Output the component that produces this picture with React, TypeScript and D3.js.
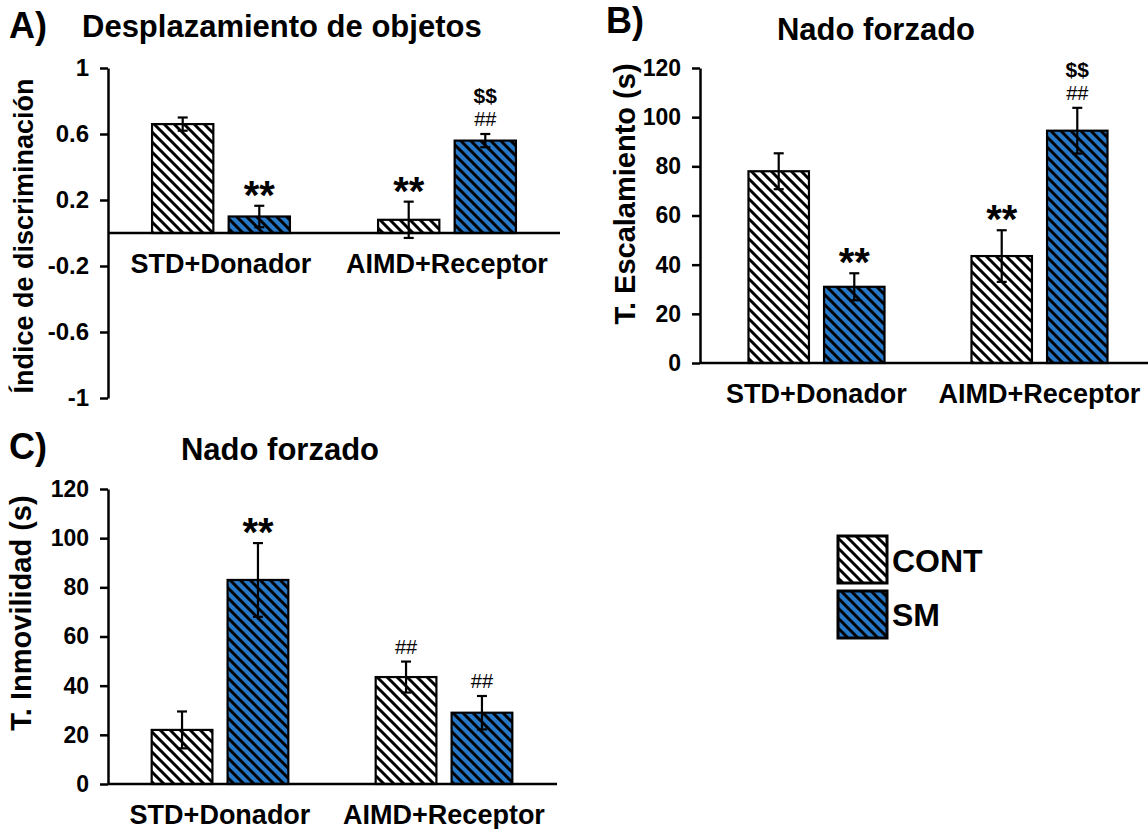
import React, { useEffect, useRef } from "react";
import * as d3 from "d3";

const categories = ["STD+Donador", "AIMD+Receptor"];
const groups = ["CONT", "SM"];

// A) Desplazamiento de objetos - indice de discriminacion
const despCont = [0.66, 0.08];
const despContErr = [0.04, 0.11];
const despSm = [0.1, 0.56];
const despSmErr = [0.065, 0.04];
const despTicks = [1, 0.6, 0.2, -0.2, -0.6, -1];

// B) Nado forzado - tiempo de escalamiento (s)
const escCont = [78, 43.5];
const escContErr = [7.3, 10.5];
const escSm = [31, 94.5];
const escSmErr = [5.5, 9.3];

// C) Nado forzado - tiempo de inmovilidad (s)
const inmCont = [22, 43.5];
const inmContErr = [7.5, 6.3];
const inmSm = [83, 29];
const inmSmErr = [15, 6.8];

const secondsTicks = [0, 20, 40, 60, 80, 100, 120];

// significance marks per [category][group], listed bottom to top
const despMarks = [[[], ["**"]], [["**"], ["##", "$$"]]];
const escMarks = [[[], ["**"]], [["**"], ["##", "$$"]]];
const inmMarks = [[[], ["**"]], [["##"], ["##"]]];

const FONT = "'Liberation Sans', Arial, sans-serif";
const BLUE = "#2677c6";

const markStyle = {
  "**": { size: 40, weight: "bold", lift: 0.575 },
  "##": { size: 20, weight: "normal", lift: 0.35 },
  "$$": { size: 21, weight: "bold", lift: 0.35 },
};

function drawPanel(svg, cfg) {
  const y = d3.scaleLinear().domain(cfg.domain).range([cfg.bottom, cfg.top]);
  const x0 = d3
    .scaleBand()
    .domain(categories)
    .range(cfg.band)
    .paddingInner(0.39)
    .paddingOuter(0.195);
  const x1 = d3
    .scaleBand()
    .domain(groups)
    .range([0, x0.bandwidth()])
    .paddingInner(0.2);

  const g = svg.append("g");

  // y axis
  const yAxis = d3
    .axisLeft(y)
    .tickValues(cfg.ticks)
    .tickFormat((d) => String(d))
    .tickSize(8)
    .tickSizeOuter(0)
    .tickPadding(11);
  const ya = g.append("g").attr("transform", `translate(${cfg.axisX},0)`).call(yAxis);
  ya.selectAll("path, line").attr("stroke", "#000").attr("stroke-width", 2.5);
  ya.selectAll("text")
    .attr("font-family", FONT)
    .attr("font-weight", "bold")
    .attr("font-size", cfg.tickSize)
    .attr("fill", "#000");

  const series = [
    { key: "CONT", values: cfg.cont, errs: cfg.contErr, fill: "url(#hatchWhite)" },
    { key: "SM", values: cfg.sm, errs: cfg.smErr, fill: "url(#hatchBlue)" },
  ];

  series.forEach((s, si) => {
    categories.forEach((c, ci) => {
      const v = s.values[ci];
      const e = s.errs[ci];
      const bx = x0(c) + x1(s.key);
      const bw = x1.bandwidth();
      const cx = bx + bw / 2;
      g.append("rect")
        .attr("x", bx)
        .attr("y", y(v))
        .attr("width", bw)
        .attr("height", y(0) - y(v))
        .attr("fill", s.fill)
        .attr("stroke", "#000")
        .attr("stroke-width", 2.2);

      const err = g.append("g").attr("stroke", "#000").attr("stroke-width", 2.2);
      err.append("line").attr("x1", cx).attr("x2", cx).attr("y1", y(v - e)).attr("y2", y(v + e));
      [v - e, v + e].forEach((t) =>
        err.append("line").attr("x1", cx - 5).attr("x2", cx + 5).attr("y1", y(t)).attr("y2", y(t))
      );

      const marks = cfg.marks[ci][si];
      marks.forEach((m, mi) => {
        const st = markStyle[m];
        const offset = m === "**" ? 20 : mi === 0 ? 15 : 38;
        const center = y(v + e) - offset;
        g.append("text")
          .attr("x", cx)
          .attr("y", center + st.lift * st.size)
          .attr("text-anchor", "middle")
          .attr("font-family", FONT)
          .attr("font-weight", st.weight)
          .attr("font-size", st.size)
          .text(m);
      });
    });
  });

  // x axis line at zero
  g.append("line")
    .attr("x1", cfg.axisX)
    .attr("x2", cfg.axisEnd)
    .attr("y1", y(0))
    .attr("y2", y(0))
    .attr("stroke", "#000")
    .attr("stroke-width", 2.5);

  categories.forEach((c) => {
    g.append("text")
      .attr("x", x0(c) + x0.bandwidth() / 2)
      .attr("y", y(0) + 40)
      .attr("text-anchor", "middle")
      .attr("font-family", FONT)
      .attr("font-weight", "bold")
      .attr("font-size", 27)
      .text(c);
  });

  // y label
  g.append("text")
    .attr("transform", `translate(${cfg.labelX},${cfg.labelY}) rotate(-90)`)
    .attr("text-anchor", "middle")
    .attr("font-family", FONT)
    .attr("font-weight", "bold")
    .attr("font-size", cfg.labelSize)
    .text(cfg.label);

  // panel letter and title
  g.append("text")
    .attr("x", cfg.letterX)
    .attr("y", cfg.letterY)
    .attr("font-family", FONT)
    .attr("font-weight", "bold")
    .attr("font-size", 36)
    .text(cfg.letter);
  g.append("text")
    .attr("x", cfg.titleX)
    .attr("y", cfg.titleY)
    .attr("text-anchor", cfg.titleAnchor)
    .attr("font-family", FONT)
    .attr("font-weight", "bold")
    .attr("font-size", 31)
    .text(cfg.title);
}

const App = () => {
  const svgRef = useRef(null);

  useEffect(() => {
    const svg = d3.select(svgRef.current);
    svg.selectAll("*").remove();

    const defs = svg.append("defs");
    const addHatch = (id, bg) => {
      const p = defs
        .append("pattern")
        .attr("id", id)
        .attr("patternUnits", "userSpaceOnUse")
        .attr("width", 10)
        .attr("height", 10);
      p.append("rect").attr("width", 10).attr("height", 10).attr("fill", bg);
      p.append("path")
        .attr("d", "M-2,-2 L12,12 M-2,8 L2,12 M8,-2 L12,2")
        .attr("stroke", "#000")
        .attr("stroke-width", 3);
    };
    addHatch("hatchWhite", "#fff");
    addHatch("hatchBlue", BLUE);

    svg.append("rect").attr("width", 1148).attr("height", 829).attr("fill", "#fff");

    drawPanel(svg, {
      domain: [-1, 1],
      ticks: despTicks,
      top: 68,
      bottom: 398,
      axisX: 108,
      axisEnd: 560,
      band: [108, 560],
      tickSize: 24,
      cont: despCont,
      contErr: despContErr,
      sm: despSm,
      smErr: despSmErr,
      marks: despMarks,
      label: "Índice de discriminación",
      labelX: 33,
      labelY: 236,
      labelSize: 27,
      letter: "A)",
      letterX: 9,
      letterY: 38,
      title: "Desplazamiento de objetos",
      titleX: 82,
      titleY: 37,
      titleAnchor: "start",
    });

    drawPanel(svg, {
      domain: [0, 120],
      ticks: secondsTicks,
      top: 68,
      bottom: 363,
      axisX: 700,
      axisEnd: 1148,
      band: [705, 1151],
      tickSize: 23,
      cont: escCont,
      contErr: escContErr,
      sm: escSm,
      smErr: escSmErr,
      marks: escMarks,
      label: "T. Escalamiento (s)",
      labelX: 635,
      labelY: 194,
      labelSize: 29,
      letter: "B)",
      letterX: 606,
      letterY: 33,
      title: "Nado forzado",
      titleX: 876,
      titleY: 40,
      titleAnchor: "middle",
    });

    drawPanel(svg, {
      domain: [0, 120],
      ticks: secondsTicks,
      top: 489,
      bottom: 784,
      axisX: 108,
      axisEnd: 557,
      band: [108, 556],
      tickSize: 23,
      cont: inmCont,
      contErr: inmContErr,
      sm: inmSm,
      smErr: inmSmErr,
      marks: inmMarks,
      label: "T. Inmovilidad (s)",
      labelX: 31,
      labelY: 613,
      labelSize: 29,
      letter: "C)",
      letterX: 9,
      letterY: 459,
      title: "Nado forzado",
      titleX: 280,
      titleY: 460,
      titleAnchor: "middle",
    });

    // legend
    const legend = svg.append("g");
    groups.forEach((gname, i) => {
      legend
        .append("rect")
        .attr("x", 838)
        .attr("y", 536 + i * 55)
        .attr("width", 49)
        .attr("height", 47)
        .attr("fill", i === 0 ? "url(#hatchWhite)" : "url(#hatchBlue)")
        .attr("stroke", "#000")
        .attr("stroke-width", 3);
      legend
        .append("text")
        .attr("x", 892)
        .attr("y", 572 + i * 54)
        .attr("font-family", FONT)
        .attr("font-weight", "bold")
        .attr("font-size", 32)
        .text(gname);
    });
  }, []);

  return (
    <svg
      ref={svgRef}
      width={1148}
      height={829}
      style={{ position: "absolute", left: 0, top: 0 }}
    ></svg>
  );
};

export default App;
